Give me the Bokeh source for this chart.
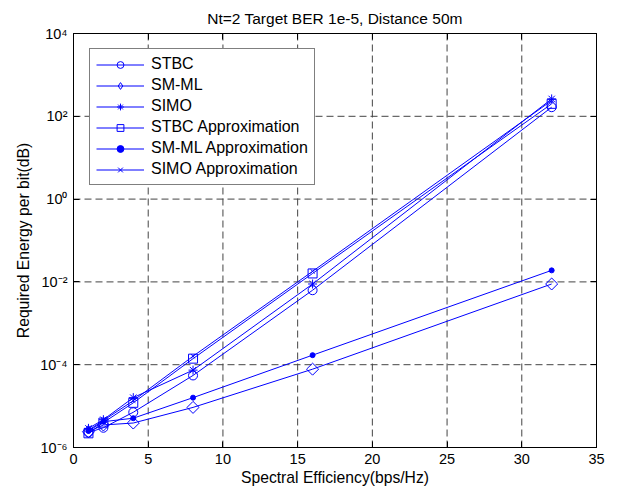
from bokeh.plotting import figure
from bokeh.models import FixedTicker, LinearAxis, LogAxis, CustomJSTickFormatter, Span
from bokeh.embed import file_html
from bokeh.resources import INLINE

# ---- data ----
spectral_eff = [1, 2, 4, 8, 16, 32]
stbc = [2.3e-6, 3.0e-6, 7.1e-6, 5.5e-5, 6.3e-3, 166]
sm_ml = [2.4e-6, 3.5e-6, 3.9e-6, 9.3e-6, 7.8e-5, 8.9e-3]
simo = [2.9e-6, 4.7e-6, 1.6e-5, 7.4e-5, 8.9e-3, 263]
stbc_approx = [2.2e-6, 4.0e-6, 1.2e-5, 1.4e-4, 1.6e-2, 200]
sm_ml_approx = [2.5e-6, 4.2e-6, 5.1e-6, 1.6e-5, 1.7e-4, 1.9e-2]
simo_approx = [2.6e-6, 4.5e-6, 1.35e-5, 1.6e-4, 1.8e-2, 240]

x_ticks = [0, 5, 10, 15, 20, 25, 30, 35]
y_ticks = [1e-6, 1e-4, 1e-2, 1e0, 1e2, 1e4]

title_text = "Nt=2 Target BER 1e-5, Distance 50m"
x_label = "Spectral Efficiency(bps/Hz)"
y_label = "Required Energy per bit(dB)"

FONT = "Liberation Sans"
BLUE = "#0000FF"

p = figure(width=631, height=491, x_range=(0, 35), y_range=(1e-6, 1e4),
           y_axis_type="log", output_backend="svg", toolbar_location=None,
           min_border_left=73, min_border_right=35, min_border_top=33,
           min_border_bottom=44)
p.background_fill_color = "white"
p.border_fill_color = "white"
p.outline_line_color = "black"
p.outline_line_width = 1

p.title.text = title_text
p.title.align = "center"
p.title.text_font = FONT
p.title.text_font_size = "15.5px"
p.title.text_font_style = "normal"
p.title.text_color = "black"
p.title.standoff = 14

sup_js = """
const sup = {"-":"\u207B","0":"\u2070","1":"\u00B9","2":"\u00B2","3":"\u00B3","4":"\u2074",
             "5":"\u2075","6":"\u2076","7":"\u2077","8":"\u2078","9":"\u2079"};
const e = Math.round(Math.log10(tick));
return "10" + String(e).split("").map(c => sup[c]).join("");
"""

def style_axis(ax, ticks):
    ax.ticker = FixedTicker(ticks=ticks, minor_ticks=[])
    ax.axis_line_color = "black"
    ax.major_tick_line_color = "black"
    ax.major_tick_in = 6
    ax.major_tick_out = 0
    ax.minor_tick_line_color = None
    ax.major_label_text_font = FONT
    ax.major_label_text_color = "black"
    ax.major_label_text_font_size = "14.5px"
    ax.axis_label_text_font = FONT
    ax.axis_label_text_font_size = "15.7px"
    ax.axis_label_text_font_style = "normal"
    ax.axis_label_text_color = "black"

xa = p.xaxis[0]
style_axis(xa, x_ticks)
xa.axis_label = x_label
xa.major_label_standoff = 6
xa.axis_label_standoff = 2

ya = p.yaxis[0]
style_axis(ya, y_ticks)
ya.formatter = CustomJSTickFormatter(code=sup_js)
ya.axis_label = y_label
ya.major_label_standoff = 6
ya.axis_label_standoff = 5

# box axes on top and right: ticks only, no labels
top = LinearAxis()
style_axis(top, x_ticks)
top.formatter = CustomJSTickFormatter(code="return ''")
top.major_label_standoff = 0
p.add_layout(top, "above")
right = LogAxis()
style_axis(right, y_ticks)
right.formatter = CustomJSTickFormatter(code="return ''")
right.major_label_standoff = 0
p.add_layout(right, "right")

# dashed grid at the inner major ticks
p.xgrid.grid_line_color = None
p.ygrid.grid_line_color = None
for v in x_ticks[1:-1]:
    p.add_layout(Span(location=v, dimension="height", line_color="#444444",
                      line_dash="7 4", line_width=1, level="underlay"))
for v in y_ticks[1:-1]:
    p.add_layout(Span(location=v, dimension="width", line_color="#444444",
                      line_dash="7 4", line_width=1, level="underlay"))

series = [
    ("STBC", stbc, "circle", 9, None, 0.0, None),
    ("SM-ML", sm_ml, "square", 8.5, None, 0.785398, "diamond"),
    ("SIMO", simo, "asterisk", 9, None, 0.0, None),
    ("STBC Approximation", stbc_approx, "square", 9, None, 0.0, None),
    ("SM-ML Approximation", sm_ml_approx, "circle", 5, BLUE, 0.0, None),
    ("SIMO Approximation", simo_approx, "x", 6, None, 0.0, None),
]
for name, vals, marker, size, fill, ang, legend_marker in series:
    p.line(spectral_eff, vals, line_color=BLUE, line_width=1, legend_label=name)
    if legend_marker is None:
        p.scatter(spectral_eff, vals, marker=marker, size=size, angle=ang,
                  line_color=BLUE, fill_color=fill, line_width=1, legend_label=name)
    else:
        p.scatter(spectral_eff, vals, marker=marker, size=size, angle=ang,
                  line_color=BLUE, fill_color=fill, line_width=1)
        p.scatter(spectral_eff, vals, marker=legend_marker, size=size,
                  line_color=BLUE, fill_color=fill, line_width=1,
                  legend_label=name, visible=False)

lg = p.legend[0]
lg.location = (16, 262)
lg.click_policy = "none"
lg.inactive_fill_alpha = 0
lg.padding = 6
lg.spacing = 3
lg.glyph_width = 48
lg.glyph_height = 17
lg.label_height = 17
lg.label_standoff = 7
lg.label_text_font = FONT
lg.label_text_font_size = "16px"
lg.label_text_color = "black"
lg.border_line_color = "black"
lg.border_line_width = 1
lg.background_fill_color = "white"
lg.background_fill_alpha = 1

open("out.html", "w").write(file_html(p, INLINE))
